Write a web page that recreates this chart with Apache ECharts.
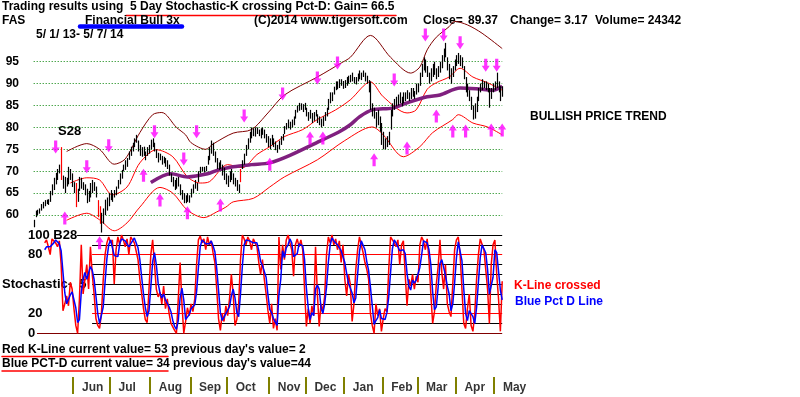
<!DOCTYPE html>
<html>
<head>
<meta charset="utf-8">
<script src="https://cdn.jsdelivr.net/npm/echarts@6/dist/echarts.min.js"></script>
<style>
  html, body { margin: 0; padding: 0; background: #fff; }
  #chart { width: 800px; height: 397px; }
</style>
</head>
<body>
<div id="chart"></div>
<script>
// FAS daily bars 5/1/13 - 5/7/14, one value per trading day (index 0 = May 1 2013)
var lows = [
  57.2,59.5,60,60.3,61,61.5,62,62.5,62.3,63,64.5,65.7,67,68,69.5,68,66,65,66.5,67,68,66.4,
  65,61.8,63,65.5,66,65.7,64.5,62.7,63,64,65,65.5,64,59.5,58,56,58,60,61,62,
  63.4,63,64,64.5,66,67,68.3,70,70.3,71,72.6,73.5,74.5,75.5,76.5,74.5,73.5,73.3,73.5,72.5,73.5,74,
  75,75.5,74.5,73,72,72.5,71.5,71.8,71,70.5,69,67.5,66.5,65.7,66,66.5,64.5,63.5,62.7,62.7,63,62.8,
  64,65,66,65.5,67.5,69.5,70,69.7,70,71.5,72.5,74,73.5,72,70.5,70.3,70.5,69,68,67,
  66.4,67.5,68,67,66.5,65.5,65,67.5,70.5,71.5,73.5,75,76.5,77.5,78,77.9,78.5,78,77.5,78.3,77.5,76.5,75.5,
  75,76,75.5,74.8,74.2,75,76,77,78.5,79.5,79.8,79.5,80,80.5,82,83.4,83.8,84,83.5,84,
  82.5,81.5,82,81,81.5,82.5,81,80.5,80,80.3,81.5,82.5,84,85.5,86,87.5,88.5,88.7,89,89.5,88.8,
  89,89.5,90,90.3,90.5,90,89.8,90.5,91,90.8,91.5,90.5,90,88,84,82.5,82,80,80.5,79,76,
  75,75,75.5,76,79.5,82.5,84,84.8,85,85.5,84.8,85.5,86,86.5,86,86.5,87,86.5,87.5,
  88,89.5,91.5,93,92.5,91.5,90,90.5,91.5,92,91,91.5,92.5,93.5,95,96,93,91,90,91.5,93,
  94,94.5,94,93.5,91,88,87,86,84,81.8,82,83.5,86,88,88.5,89,88.5,88,84.5,86.5,88,
  88.5,89,88,86,87
];
var highs = [
  58.9,61,61.2,61.5,62.5,63,63.4,63.5,63.6,65.5,67,68.5,69.6,70.5,71.5,75.5,69,68.7,68.5,71,70.5,69.5,
  67.5,67.3,66,68.7,68.5,67.5,67,66,65.5,67.3,68,67.5,66.5,63.4,62,60.5,61.5,63.5,64,65,
  65.7,65,65.7,66.5,68,69.5,70.3,71.5,72.5,73,74.5,75.6,76.5,77.5,78.3,77,76,75.5,75.6,74.5,75.5,76,
  77.2,77.5,76.5,75,74.2,74,73.5,73.3,73,72.5,71.5,69.5,68.7,68,68.5,68.7,67,65.7,65,64.5,65,64.5,
  66,67,68,67.3,70,71,71,71,71.2,73.5,75.5,77,76.5,74.5,73,72,72.5,71.5,70.8,69.5,
  69,70,70.5,69.5,68.5,68,67,70.5,72.5,74,76,77.5,79,80,79.8,80,80,79.5,79.8,80,79.5,78.5,78,
  77.5,78.3,77.5,76.8,76,77,78,78.5,80.3,81,81.8,81.3,81.8,82.5,84,85,85.6,85.5,85.3,85.6,
  84.5,83.5,84,83.3,83.5,84,83,82.5,82,82.5,83.5,84.5,86.5,88,88,89.3,90.5,90.5,91,91,90.6,
  90.8,91.5,91.8,92,92.5,91.5,91.5,92.3,93,92.5,93,92.5,91.8,90.8,90.5,85.5,84.5,83.5,84,82.5,81,
  79,77.5,78,79,84,85.5,86.5,87,87.5,88,87,88,88,88.5,88,89,89,88.3,90,
  90,92.5,94.5,96,95.5,94,92.5,93.5,94.5,95,93.5,94,95,96.5,98,99.3,96,94.5,93.5,94,95.5,
  96.5,97,96.5,96,94,91.5,90,88.5,87,85,85.5,87,89,90,91,90.5,90.5,90,89,89,90,
  90.5,92.5,90.5,89.4,89.4
];
var redBars = [15, 23, 35, 36, 113];

// envelope bands and the long moving average, read at key days: [day, value]
var upperBand = [[18,74.5],[29,76.3],[36,75],[44,71.6],[50,72.8],[58,78.8],[65,82.9],[70,83.4],[78,80],[83,78.3],[86,76.5],[94,75],[98,76.2],[109,78.7],[119,79.5],[128,83.3],[137,87.4],[155,91.5],[168,94.7],[173,96],[184,101],[195,96],[206,92.4],[211,93.8],[215,97.7],[220,100.6],[227,103],[230,104.2],[237,103.4],[245,101.5],[256,98]];
var midBand = [[20,67.3],[29,68.5],[36,68],[43,64.6],[51,66.4],[58,71.9],[67,74.9],[76,73.3],[84,68.7],[91,67.3],[96,67.6],[106,71.5],[114,70.8],[122,73.8],[129,75.6],[137,77.9],[147,79.5],[155,81.8],[165,84],[173,86.3],[184,90.4],[191,87],[204,83.3],[209,84],[215,88.7],[220,90.2],[227,91.5],[233,93.5],[240,91.5],[248,90.2],[256,88.5]];
var lowerBand = [[18,58.8],[29,60.4],[36,58.9],[44,56.4],[51,58.2],[58,61.8],[69,66.3],[76,65],[84,61.1],[93,59.4],[100,60.7],[105,61.8],[109,63],[120,63.8],[129,66.4],[137,68.7],[155,72.6],[170,77],[185,80.1],[191,78.3],[202,73.3],[211,75.6],[218,78.8],[229,81.8],[232,82.9],[240,81],[248,80.1],[256,78.3]];
var longMa = [[64,67.4],[75,69.4],[84,68.7],[95,69.4],[101,70.3],[109,71],[119,71.5],[129,71.9],[140,73.6],[158,77.2],[167,79],[173,80.6],[178,82.4],[185,84],[196,84.4],[204,85.6],[215,87],[222,87.4],[233,89],[245,88.7],[251,88.5],[256,89.4]];

// signal arrows: [day, price]
var sellArrows = [[12,75.5],[29,71],[41,75.8],[66,79],[82,72.8],[89,79],[115,82.6],[136,87.6],[155,91.3],[166,94.7],[197,90.8],[214,101.1],[224,101.1],[233,99.3],[247,94.2],[253,94.2]];
var buyArrows = [[17,59.3],[60,69.1],[69,63.4],[84,60.5],[102,62.3],[129,71.6],[151,77.6],[158,77.6],[186,72.6],[204,75.3],[220,82.6],[229,79.2],[236,79.2],[250,79.4],[256,79.4]];
var stochArrows = [[36,92]];

// 5 day stochastic K and D
var kLine = [
  null,null,null,null,null,null,
  92,95,88,80,96,98,92,88,94,70,23,30,38,28,52,45,
  25,8,0,35,90,40,55,70,45,88,60,40,15,8,5,20,55,80,92,98,
  92,95,50,85,98,90,100,95,88,96,80,98,100,92,94,75,55,40,25,14,11,45,
  80,95,70,45,37,42,30,48,25,35,20,10,8,3,0,35,72,30,0,12,26,18,
  30,22,35,70,95,99,92,96,85,98,90,94,82,72,45,15,3,20,12,28,
  18,35,60,40,8,14,30,75,100,96,90,98,94,85,96,92,88,72,60,75,55,40,23,
  10,30,5,15,3,98,65,90,75,95,100,92,85,58,90,96,88,95,85,45,
  7,25,10,28,18,88,40,7,30,22,38,80,98,92,100,90,96,85,94,72,90,
  55,38,60,50,12,30,65,85,98,100,82,72,65,55,20,8,0,30,18,25,2,
  15,25,22,65,98,95,92,88,95,70,90,94,60,28,55,48,60,45,58,
  52,90,98,94,85,96,75,40,10,22,50,68,95,62,45,70,30,22,17,50,85,
  95,98,80,45,10,5,25,40,8,2,20,55,80,96,95,85,65,45,10,70,90,
  95,60,35,2,53
];
var dLine = [
  null,null,null,null,null,null,
  85,88,90,88,88,92,95,93,91,84,62,41,30,32,39,42,
  41,26,11,14,42,55,62,55,57,68,64,55,38,20,10,11,27,52,76,90,
  95,95,79,77,78,91,96,95,94,93,88,91,93,97,95,87,75,57,40,26,17,23,
  47,73,82,70,51,41,36,40,34,36,27,22,13,7,4,13,36,46,34,14,13,19,
  25,23,29,42,67,88,95,96,91,93,91,94,89,83,66,44,21,13,12,20,
  19,27,38,45,36,21,17,40,68,90,95,95,94,92,92,91,92,84,73,69,63,57,39,
  24,21,15,17,8,39,55,84,77,87,90,96,92,78,78,81,91,93,89,75,
  46,26,14,21,18,45,49,45,26,20,30,47,72,90,97,94,95,90,92,84,85,
  72,61,51,49,41,31,36,60,83,94,93,85,73,64,47,28,9,13,16,24,15,
  14,14,21,37,62,86,95,92,92,84,85,85,81,61,48,44,54,51,54,
  52,67,80,94,92,92,85,70,42,24,27,47,71,75,67,59,48,40,23,30,51,
  77,93,91,74,45,20,13,23,24,17,10,26,52,77,90,92,82,65,40,42,57,
  85,82,63,44,34
];

var priceTicks = [60, 65, 70, 75, 80, 85, 90, 95];
var stochTicks = [0, 20, 80];
var monthStarts = [22, 42, 64, 86, 106, 129, 149, 170, 191, 210, 231, 252];
var monthNames = ['Jun', 'Jul', 'Aug', 'Sep', 'Oct', 'Nov', 'Dec', 'Jan', 'Feb', 'Mar', 'Apr', 'May'];

var FONT = '"Liberation Sans", Arial, sans-serif';
var lastDay = lows.length - 1;

var bars = lows.map(function (lo, i) { return [i, lo, highs[i]]; });

var downPath = 'path://M3,0 L7,0 L7,7 L10,7 L5,13 L0,7 L3,7 Z';
var upPath = 'path://M5,0 L10,6 L7,6 L7,13 L3,13 L3,6 L0,6 Z';

// stochastic reference lines: level, colour, starting day
var stochRefs = [
  [100, '#000', 23.7], [90, '#000', 31.9], [80, '#ff0000', 31.9], [70, '#000', 31.9],
  [60, '#000', 31.9], [50, '#000', 31.9], [40, '#000', 31.9], [30, '#000', 31.9],
  [20, '#ff0000', 31.9], [10, '#000', 31.9], [0, '#800000', 1.8]
];

function txt(text, x, y, opt) {
  opt = opt || {};
  return {
    type: 'text', silent: true,
    style: {
      text: text, x: x, y: y, verticalAlign: 'middle',
      fill: opt.color || '#000',
      font: 'bold ' + (opt.size || 12) + 'px ' + FONT
    }
  };
}
function hline(x1, x2, y, color, w) {
  return { type: 'line', silent: true, shape: { x1: x1, y1: y, x2: x2, y2: y },
    style: { stroke: color, lineWidth: w, lineCap: 'round' } };
}

var kNow = kLine[lastDay], kPrev = kLine[lastDay - 1];
var dNow = dLine[lastDay], dPrev = dLine[lastDay - 1];

var chart = echarts.init(document.getElementById('chart'));

var option = {
  animation: false,
  backgroundColor: '#fff',
  grid: [
    { left: 33.7, top: 17.9, width: 468.5, height: 219 },
    { left: 33.7, top: 235, width: 468.5, height: 98.3 },
    { left: 33.7, top: 377, width: 468.5, height: 17 }
  ],
  xAxis: [0, 1, 2].map(function (g) {
    return { type: 'value', gridIndex: g, min: 0, max: lastDay, show: false };
  }),
  yAxis: [
    {
      type: 'value', gridIndex: 0, min: 55, max: 105, interval: 5,
      axisLine: { show: false }, axisTick: { show: false }, splitLine: { show: false },
      axisLabel: {
        margin: 28, align: 'left', color: '#000', fontSize: 12, fontWeight: 'bold', fontFamily: FONT,
        formatter: function (v) { return priceTicks.indexOf(v) >= 0 ? String(v) : ''; }
      }
    },
    {
      type: 'value', gridIndex: 1, min: 0, max: 100, interval: 10,
      axisLine: { show: false }, axisTick: { show: false }, splitLine: { show: false },
      axisLabel: {
        margin: 5.7, align: 'left', color: '#000', fontSize: 13, fontWeight: 'bold', fontFamily: FONT,
        formatter: function (v) {
          if (v === 100) return '100 B28';
          return stochTicks.indexOf(v) >= 0 ? String(v) : '';
        }
      }
    },
    { type: 'value', gridIndex: 2, min: 0, max: 1, show: false }
  ],
  series: [
    {
      name: 'upper', type: 'line', xAxisIndex: 0, yAxisIndex: 0, z: 2,
      data: upperBand, smooth: 0.3, showSymbol: false, silent: true,
      lineStyle: { color: '#800000', width: 1 },
      markLine: {
        z: 1, silent: true, symbol: 'none', label: { show: false },
        lineStyle: { color: '#008000', type: [1, 2], width: 1 },
        data: priceTicks.map(function (v) { return { yAxis: v }; })
      }
    },
    {
      name: 'mid', type: 'line', xAxisIndex: 0, yAxisIndex: 0, z: 2,
      data: midBand, smooth: 0.3, showSymbol: false, silent: true,
      lineStyle: { color: '#ff0000', width: 1 }
    },
    {
      name: 'lower', type: 'line', xAxisIndex: 0, yAxisIndex: 0, z: 2,
      data: lowerBand, smooth: 0.3, showSymbol: false, silent: true,
      lineStyle: { color: '#ff0000', width: 1 }
    },
    {
      name: 'ma', type: 'line', xAxisIndex: 0, yAxisIndex: 0, z: 3,
      data: longMa, smooth: 0.3, showSymbol: false, silent: true,
      lineStyle: { color: '#80207f', width: 3.5 }
    },
    {
      name: 'bars', type: 'custom', xAxisIndex: 0, yAxisIndex: 0, z: 4,
      data: bars, encode: { x: 0, y: [1, 2] }, silent: true,
      renderItem: function (params, api) {
        var i = api.value(0);
        var a = api.coord([i, api.value(1)]);
        var b = api.coord([i, api.value(2)]);
        var x = Math.round(a[0]) + 0.5;
        return {
          type: 'line',
          shape: { x1: x, y1: a[1], x2: x, y2: b[1] },
          style: { stroke: redBars.indexOf(i) >= 0 ? '#ff0000' : '#000', lineWidth: 1.2 }
        };
      }
    },
    {
      name: 'sell', type: 'scatter', xAxisIndex: 0, yAxisIndex: 0, z: 5, clip: false,
      data: sellArrows, symbol: downPath, symbolSize: [8, 13], silent: true,
      itemStyle: { color: '#ff00ff' }
    },
    {
      name: 'buy', type: 'scatter', xAxisIndex: 0, yAxisIndex: 0, z: 5, clip: false,
      data: buyArrows, symbol: upPath, symbolSize: [8, 13], silent: true,
      itemStyle: { color: '#ff00ff' }
    },
    {
      name: 'K', type: 'line', xAxisIndex: 1, yAxisIndex: 1, z: 3,
      data: kLine.map(function (v, i) { return [i, v]; }),
      showSymbol: false, silent: true,
      lineStyle: { color: '#ff0000', width: 1.5 },
      markLine: {
        z: 1, silent: true, symbol: 'none', label: { show: false },
        data: stochRefs.map(function (r) {
          return [
            { coord: [r[2], r[0]], lineStyle: { color: r[1], width: 1, type: 'solid' } },
            { coord: [lastDay, r[0]] }
          ];
        })
      }
    },
    {
      name: 'D', type: 'line', xAxisIndex: 1, yAxisIndex: 1, z: 4,
      data: dLine.map(function (v, i) { return [i, v]; }),
      showSymbol: false, silent: true,
      lineStyle: { color: '#0000ff', width: 1.5 }
    },
    {
      name: 'stochBuy', type: 'scatter', xAxisIndex: 1, yAxisIndex: 1, z: 5, clip: false,
      data: stochArrows, symbol: upPath, symbolSize: [8, 13], silent: true,
      itemStyle: { color: '#ff00ff' }
    },
    {
      name: 'months', type: 'scatter', xAxisIndex: 2, yAxisIndex: 2, z: 3,
      data: monthStarts.map(function (m, k) { return [m, 0.4, monthNames[k]]; }),
      symbolSize: 0, silent: true,
      label: {
        show: true, position: 'right', distance: 8,
        color: '#000', fontSize: 12, fontWeight: 'bold', fontFamily: FONT,
        formatter: function (p) { return p.value[2]; }
      },
      markLine: {
        silent: true, symbol: 'none', label: { show: false },
        lineStyle: { color: '#808000', width: 2, type: 'solid' },
        data: monthStarts.map(function (m) { return { xAxis: m - 0.4 }; })
      }
    }
  ],
  graphic: [
    txt('Trading results using  5 Day Stochastic-K crossing Pct-D: Gain= 66.5', 2, 7),
    hline(126, 396, 15.5, '#ff0000', 1.5),
    txt('FAS', 2, 21),
    txt('Financial Bull 3x', 85, 21),
    hline(80, 182, 26.5, '#0000ff', 4.5),
    txt('(C)2014 www.tigersoft.com', 254, 21),
    txt('Close=', 423, 21),
    txt('89.37', 468, 21),
    txt('Change= 3.17', 510, 21),
    txt('Volume= 24342', 595, 21),
    txt('5/ 1/ 13- 5/ 7/ 14', 36, 35),
    txt('S28', 58, 131, { size: 13 }),
    txt('BULLISH PRICE TREND', 530, 117),
    txt('Stochastic-  5', 2, 284, { size: 13 }),
    txt('K-Line crossed', 514, 286, { color: '#ff0000' }),
    txt('Blue Pct D Line', 515, 302, { color: '#0000ff' }),
    txt('Red K-Line current value= ' + kNow + ' previous day\'s value= ' + kPrev, 2, 350),
    hline(2, 168, 356.5, '#ff0000', 1.5),
    txt('Blue PCT-D current value= ' + dNow + ' previous day\'s value=' + dPrev, 2, 364),
    hline(2, 168, 371, '#ff0000', 1.5)
  ]
};

chart.setOption(option);
</script>
</body>
</html>
